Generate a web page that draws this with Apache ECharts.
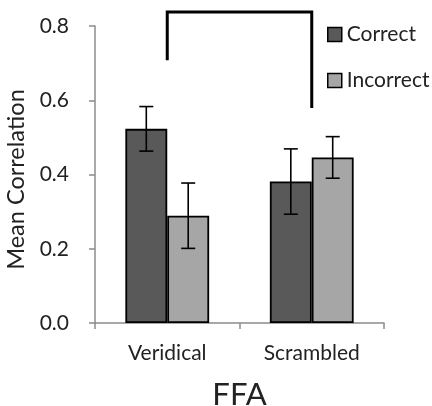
<!DOCTYPE html>
<html><head><meta charset="utf-8">
<script src="https://cdn.jsdelivr.net/npm/echarts@6/dist/echarts.min.js"></script>
<style>html,body{margin:0;padding:0;background:#fff}#c{width:432px;height:406px}</style>
</head><body><div id="c"></div>
<script>
const categories = ['Veridical', 'Scrambled'];
const seriesNames = ['Correct', 'Incorrect'];
const correctValues = [0.523, 0.381];
const incorrectValues = [0.289, 0.446];
const correctErrors = [0.060, 0.088];
const incorrectErrors = [0.088, 0.056];
const yTicks = [0, 0.2, 0.4, 0.6, 0.8];
const bracketLeftBottom = 0.708;
const bracketTop = 0.838;
const bracketRightBottom = 0.579;
const xTitle = 'FFA';
const yTitle = 'Mean Correlation';

const FONT = 'Lato';
const BAR_FRAC = 0.29;

function errorItem(offsetSign) {
  return function (params, api) {
    const ci = api.value(0), v = api.value(1), e = api.value(2);
    const band = api.size([1, 0])[0];
    const cx = api.coord([ci, v])[0] + offsetSign * band * BAR_FRAC / 2;
    const yt = api.coord([ci, v + e])[1];
    const yb = api.coord([ci, v - e])[1];
    const cap = 7;
    const style = { stroke: '#000', lineWidth: 1.6 };
    return { type: 'group', children: [
      { type: 'line', shape: { x1: cx, y1: yt, x2: cx, y2: yb }, style },
      { type: 'line', shape: { x1: cx - cap, y1: yt, x2: cx + cap, y2: yt }, style },
      { type: 'line', shape: { x1: cx - cap, y1: yb, x2: cx + cap, y2: yb }, style }
    ]};
  };
}

const chart = echarts.init(document.getElementById('c'), null, { renderer: 'canvas' });
chart.setOption({
  animation: false,
  textStyle: { fontFamily: FONT },
  grid: { left: 95, right: 48, top: 26, bottom: 83, containLabel: false, outerBoundsMode: 'none' },
  legend: {
    orient: 'vertical', left: 327, top: 24, padding: 0, itemWidth: 14, itemHeight: 14, itemGap: 25,
    icon: 'rect', itemStyle: { borderColor: '#000', borderWidth: 1.5 },
    textStyle: { fontFamily: FONT, fontSize: 21, color: '#222' },
    data: seriesNames
  },
  xAxis: {
    type: 'category', data: categories,
    name: xTitle, nameLocation: 'middle', nameGap: 56,
    nameTextStyle: { fontFamily: FONT, fontSize: 31, color: '#222' },
    axisLine: { lineStyle: { color: '#8c8c8c', width: 1.5 } },
    axisTick: { show: true, length: 6, lineStyle: { color: '#8c8c8c', width: 1.5 } },
    axisLabel: { fontFamily: FONT, fontSize: 21, color: '#222', margin: 20 }
  },
  yAxis: {
    type: 'value', min: 0, max: 0.8, interval: 0.2,
    name: yTitle, nameLocation: 'middle', nameGap: 66, nameRotate: 90,
    nameTextStyle: { fontFamily: FONT, fontSize: 23.5, color: '#222', padding: [0, 10, 0, 0] },
    axisLine: { show: true, lineStyle: { color: '#8c8c8c', width: 1.5 } },
    axisTick: { show: true, length: 6, lineStyle: { color: '#8c8c8c', width: 1.5 } },
    splitLine: { show: false },
    axisLabel: { fontFamily: FONT, fontSize: 21, color: '#222', margin: 26,
      formatter: v => yTicks.includes(+v.toFixed(1)) ? v.toFixed(1) : '' }
  },
  series: [
    { name: seriesNames[0], type: 'bar', data: correctValues, barWidth: (BAR_FRAC * 100) + '%', barGap: '0%',
      itemStyle: { color: '#595959', borderColor: '#000', borderWidth: 1.8 } },
    { name: seriesNames[1], type: 'bar', data: incorrectValues, barWidth: (BAR_FRAC * 100) + '%', barGap: '0%',
      itemStyle: { color: '#a6a6a6', borderColor: '#000', borderWidth: 1.8 } },
    { type: 'custom', renderItem: errorItem(-1), z: 5,
      data: categories.map((c, i) => [i, correctValues[i], correctErrors[i]]) },
    { type: 'custom', renderItem: errorItem(1), z: 5,
      data: categories.map((c, i) => [i, incorrectValues[i], incorrectErrors[i]]) },
    { type: 'custom', z: 5,
      renderItem: function (params, api) {
        const p1 = api.coord([0, bracketLeftBottom]);
        const p2 = api.coord([0, bracketTop]);
        const p3 = api.coord([1, bracketTop]);
        const p4 = api.coord([1, bracketRightBottom]);
        return { type: 'polyline', shape: { points: [p1, p2, p3, p4] },
          style: { stroke: '#000', lineWidth: 3, fill: null } };
      },
      data: [[0, bracketTop]] , clip: false }
  ]
});
</script></body></html>
